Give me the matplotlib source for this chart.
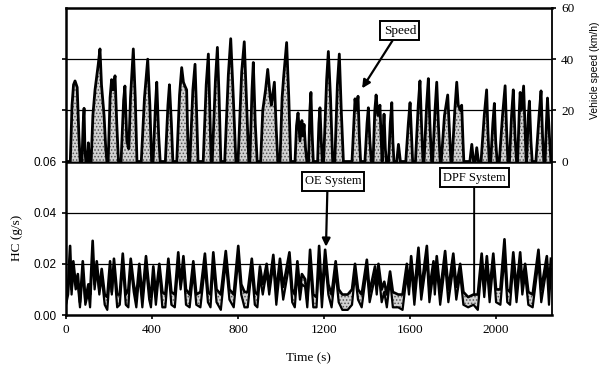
import matplotlib
matplotlib.use("Agg")
import matplotlib.pyplot as plt

plt.rcParams['font.family'] = ['Liberation Serif', 'DejaVu Serif']
plt.rcParams['hatch.color'] = '#555555'
plt.rcParams['hatch.linewidth'] = 0.7

# ---------------- data ----------------
speed_t = [0, 20, 28, 35, 42, 52, 60, 66,
           74, 80, 84, 88, 92,
           99, 104, 109,
           117, 125, 135, 150, 158, 165, 177, 185, 190,
           196, 205, 212, 219, 228, 236, 244,
           256, 268, 274, 283, 292, 300, 313, 322, 330,
           350, 365, 380, 390, 398,
           405, 416, 422, 431, 438,
           462, 474, 481, 490, 497,
           515, 528, 538, 546, 553, 561, 566, 570,
           576, 590, 600, 607, 614,
           638, 652, 662, 669, 675,
           680, 695, 704, 712, 720,
           738, 755, 766, 778, 790,
           800, 817, 829, 840, 850,
           855, 865, 871, 880, 889,
           905, 915, 928, 938, 950, 955, 969, 978, 985,
           995, 1005, 1012, 1026, 1036, 1045,
           1065, 1072, 1079, 1088, 1097, 1102, 1107, 1114, 1120,
           1128, 1134, 1139, 1145, 1150,
           1170, 1176, 1181, 1187, 1192,
           1198, 1212, 1220, 1230, 1240,
           1250, 1262, 1271, 1280, 1290,
           1330, 1340, 1344, 1350, 1358, 1364, 1370,
           1390, 1400, 1406, 1413, 1420,
           1428, 1436, 1442, 1450, 1460, 1465, 1470, 1475, 1479, 1485, 1490,
           1500, 1508, 1515, 1520, 1525,
           1538, 1546, 1555,
           1580, 1592, 1600, 1607, 1612,
           1625, 1638, 1646, 1653, 1660,
           1665, 1677, 1685, 1692, 1700,
           1705, 1716, 1724, 1732, 1740,
           1745, 1760, 1775, 1783, 1790,
           1795, 1808, 1817, 1824, 1834, 1840, 1846, 1850,
           1878, 1887, 1895,
           1903, 1910, 1918,
           1930, 1945, 1956, 1962, 1968,
           1975, 1985, 1992, 1998, 2005,
           2015, 2030, 2042, 2049, 2055,
           2062, 2072, 2080, 2088, 2095,
           2100, 2108, 2112, 2118, 2128, 2135, 2140,
           2142, 2150, 2155, 2162, 2168,
           2185, 2200, 2209, 2216, 2222,
           2228, 2234, 2239, 2248, 2255]
speed_v = [0, 0, 22, 30, 31.5, 29, 10, 0,
           0, 15, 20.8, 5, 0,
           0, 7.3, 0,
           0, 18, 28, 38, 44, 30, 18, 5, 0,
           0, 25, 32, 28, 33.5, 15, 0,
           0, 24, 29.5, 8, 5, 25, 44, 25, 0,
           0, 25, 40, 22, 0,
           0, 22, 31, 10, 0,
           0, 22, 30, 15, 0,
           0, 26, 36.7, 31, 29.5, 28, 10, 0,
           0, 28, 38, 20, 0,
           0, 30, 42, 20, 0,
           0, 32, 44.6, 25, 0,
           0, 34, 48, 25, 0,
           0, 35, 46.8, 22, 0,
           0, 28, 38.7, 15, 0,
           0, 20, 28, 36, 25, 22, 31, 12, 0,
           0, 25, 33, 46.5, 25, 0,
           0, 14, 19, 8, 16, 10, 14.5, 5, 0,
           0, 20, 27, 10, 0,
           0, 15, 21, 8, 0,
           0, 32, 43, 25, 0,
           0, 30, 42, 20, 0,
           0, 18, 24.5, 20, 25.5, 10, 0,
           0, 15, 21, 8, 0,
           0, 20, 26, 18, 22, 10, 0, 12, 18.5, 5, 0,
           0, 15, 23, 8, 0,
           0, 6.7, 0,
           0, 15, 23, 10, 0,
           0, 22, 31.5, 15, 0,
           0, 22, 32.4, 15, 0,
           0, 20, 31, 14, 0,
           0, 18, 26, 12, 0,
           0, 20, 31, 22, 20, 22, 8, 0,
           0, 6.7, 0,
           0, 5.4, 0,
           0, 18, 28, 12, 0,
           0, 15, 22.7, 8, 0,
           0, 18, 29.6, 12, 0,
           0, 18, 28, 10, 0,
           0, 20, 27, 20, 29.5, 12, 0,
           0, 18, 23.6, 8, 0,
           0, 18, 27.6, 10, 0,
           0, 15, 24.8, 10, 0]

hc_t = [0, 10, 19, 26, 34, 45, 55, 65, 78, 90, 104, 112, 124, 133, 143, 155, 166, 180,
        192, 205, 213, 223, 238, 250, 264, 278, 290, 301, 315, 327, 341, 355, 372, 387,
        395, 406, 418, 434, 448, 462, 476, 490, 506, 522, 533, 546, 558, 575, 592, 606,
        625, 646, 660, 672, 685, 700, 720, 743, 760, 780, 801, 815, 830, 845, 864, 878,
        890, 902, 915, 933, 945, 964, 978, 995, 1010, 1039, 1052, 1064, 1076, 1088, 1097,
        1112, 1122, 1135, 1150, 1165, 1177, 1190, 1205, 1220, 1235, 1254, 1268, 1285,
        1310, 1330, 1344, 1358, 1375, 1399, 1412, 1437, 1445, 1453, 1468, 1480, 1492,
        1507, 1520, 1545, 1565, 1585, 1595, 1605, 1620, 1639, 1652, 1678, 1690, 1709,
        1715, 1724, 1740, 1763, 1778, 1801, 1815, 1833, 1848, 1870, 1895, 1915, 1933,
        1945, 1957, 1970, 1987, 2000, 2020, 2039, 2052, 2065, 2080, 2095, 2112, 2122,
        2135, 2150, 2170, 2197, 2210, 2236, 2246, 2255]
hc_oe = [0.005, 0.012, 0.027, 0.010, 0.021, 0.012, 0.016, 0.005, 0.021, 0.006, 0.012,
         0.008, 0.029, 0.012, 0.021, 0.010, 0.018, 0.008, 0.007, 0.021, 0.009, 0.022,
         0.008, 0.008, 0.024, 0.008, 0.010, 0.022, 0.012, 0.007, 0.020, 0.007, 0.023,
         0.010, 0.007, 0.019, 0.008, 0.020, 0.009, 0.008, 0.022, 0.009, 0.008, 0.0245,
         0.012, 0.023, 0.010, 0.008, 0.021, 0.008, 0.009, 0.024, 0.009, 0.008, 0.0245,
         0.010, 0.008, 0.025, 0.010, 0.008, 0.027, 0.012, 0.009, 0.009, 0.022, 0.009,
         0.008, 0.019, 0.012, 0.020, 0.011, 0.0235, 0.009, 0.022, 0.011, 0.0245, 0.010,
         0.008, 0.021, 0.010, 0.016, 0.014, 0.006, 0.0255, 0.008, 0.007, 0.027, 0.008,
         0.0255, 0.012, 0.008, 0.021, 0.010, 0.008, 0.008, 0.010, 0.020, 0.010, 0.008,
         0.0216, 0.009, 0.019, 0.011, 0.020, 0.010, 0.013, 0.008, 0.017, 0.009, 0.008,
         0.008, 0.020, 0.011, 0.023, 0.009, 0.0263, 0.010, 0.027, 0.010, 0.021, 0.012,
         0.023, 0.009, 0.025, 0.010, 0.024, 0.011, 0.020, 0.009, 0.007, 0.008, 0.008,
         0.024, 0.011, 0.023, 0.010, 0.024, 0.010, 0.010, 0.0296, 0.010, 0.009, 0.0245,
         0.010, 0.0245, 0.012, 0.020, 0.009, 0.008, 0.0255, 0.010, 0.023, 0.010, 0.022]
hc_dpf = [0.004, 0.008, 0.020, 0.008, 0.018, 0.010, 0.012, 0.003, 0.017, 0.004, 0.009,
          0.003, 0.024, 0.010, 0.018, 0.008, 0.015, 0.004, 0.002, 0.017, 0.008, 0.019,
          0.003, 0.004, 0.020, 0.004, 0.003, 0.019, 0.009, 0.003, 0.016, 0.003, 0.019,
          0.006, 0.003, 0.015, 0.004, 0.018, 0.003, 0.003, 0.018, 0.004, 0.003, 0.020,
          0.010, 0.019, 0.004, 0.003, 0.017, 0.004, 0.003, 0.019, 0.005, 0.003, 0.020,
          0.005, 0.002, 0.021, 0.006, 0.003, 0.022, 0.008, 0.003, 0.003, 0.018, 0.004,
          0.003, 0.015, 0.008, 0.017, 0.008, 0.020, 0.004, 0.018, 0.006, 0.020, 0.005,
          0.003, 0.017, 0.006, 0.012, 0.011, 0.003, 0.020, 0.003, 0.003, 0.022, 0.003,
          0.021, 0.008, 0.003, 0.017, 0.005, 0.002, 0.002, 0.004, 0.016, 0.006, 0.003,
          0.018, 0.005, 0.015, 0.008, 0.017, 0.005, 0.009, 0.003, 0.014, 0.003, 0.003,
          0.002, 0.016, 0.008, 0.019, 0.004, 0.021, 0.006, 0.022, 0.005, 0.017, 0.008,
          0.019, 0.004, 0.020, 0.005, 0.019, 0.006, 0.016, 0.004, 0.003, 0.004, 0.002,
          0.019, 0.007, 0.019, 0.005, 0.020, 0.005, 0.004, 0.023, 0.005, 0.004, 0.020,
          0.005, 0.020, 0.008, 0.016, 0.004, 0.003, 0.021, 0.005, 0.019, 0.004, 0.018]

x_ticks = [0, 400, 800, 1200, 1600, 2000]
hc_ticks = [0.00, 0.02, 0.04, 0.06, 0.08, 0.10]
hc_tick_labels = ['0.00', '0.02', '0.04', '0.06', '', '']
speed_ticks = [0, 20, 40, 60]

# ---------------- figure ----------------
fig = plt.figure(figsize=(6.05, 3.68), dpi=100)
ax = fig.add_axes([66/605, 1-315/368, (552-66)/605, (315-8)/368])
ax.set_xlim(0, 2260)
ax.set_ylim(0, 0.12)

for g, lw in [(0.02, 0.9), (0.04, 0.9), (0.06, 1.8), (0.08, 0.9), (0.10, 0.9)]:
    ax.axhline(g, color='black', lw=lw, zorder=1)

ax.fill_between(hc_t, hc_dpf, hc_oe, facecolor='#d2d2d2', edgecolor='#555555',
                hatch='.....', linewidth=0, zorder=2)
ax.plot(hc_t, hc_oe, color='black', lw=1.9, zorder=3)
ax.plot(hc_t, hc_dpf, color='black', lw=1.6, zorder=3)

ax.set_xticks(x_ticks)
ax.set_xticklabels([str(v) for v in x_ticks], fontsize=9.5)
ax.set_yticks(hc_ticks)
ax.set_yticklabels(hc_tick_labels, fontsize=8.5, family=['Liberation Sans', 'DejaVu Sans'])
ax.tick_params(direction='out', length=3, width=1.2)
for s in ['top', 'left', 'bottom']:
    ax.spines[s].set_linewidth(1.8)
ax.spines['right'].set_linewidth(1.3)

ax2 = ax.twinx()
ax2.set_ylim(-60, 60)
ax2.fill_between(speed_t, 0, speed_v, facecolor='#d2d2d2', edgecolor='#555555',
                 hatch='.....', linewidth=0, zorder=2)
ax2.plot(speed_t, speed_v, color='black', lw=2.0, zorder=3)
ax2.set_yticks(speed_ticks)
ax2.set_yticklabels([str(v) for v in speed_ticks], fontsize=9.5)
ax2.tick_params(direction='out', length=3, width=1.2)
for s in ax2.spines.values():
    s.set_visible(False)

box = dict(boxstyle='square,pad=0.25', fc='white', ec='black', lw=1.4)
ax.annotate('Speed', xy=(1377, 0.0886), xytext=(1553, 0.1112),
            ha='center', va='center', fontsize=9.5, bbox=box,
            arrowprops=dict(arrowstyle='-|>', lw=1.6, color='black',
                            mutation_scale=12, relpos=(0.35, 0), shrinkA=0, shrinkB=0),
            zorder=6)
ax.annotate('OE System', xy=(1209, 0.0267), xytext=(1242, 0.0522),
            ha='center', va='center', fontsize=9, bbox=box,
            arrowprops=dict(arrowstyle='-|>', lw=1.6, color='black',
                            mutation_scale=12, relpos=(0.4, 0), shrinkA=0, shrinkB=0),
            zorder=6)
ax.annotate('DPF System', xy=(1898, 0.0078), xytext=(1898, 0.0537),
            ha='center', va='center', fontsize=9, bbox=box,
            arrowprops=dict(arrowstyle='-', lw=1.4, color='black',
                            relpos=(0.5, 0), shrinkA=0, shrinkB=0),
            zorder=6)

fig.text(17/605, 1-238/368, 'HC (g/s)', rotation=90, ha='center', va='center', fontsize=9.5)
fig.text(595/605, 1-70/368, 'Vehicle speed (km/h)', rotation=90, ha='center',
         va='center', fontsize=7.5, family=['Liberation Sans', 'DejaVu Sans'])
fig.text(308/605, 1-358/368, 'Time (s)', ha='center', va='center', fontsize=9.5)

fig.savefig('out.png', dpi=100)
